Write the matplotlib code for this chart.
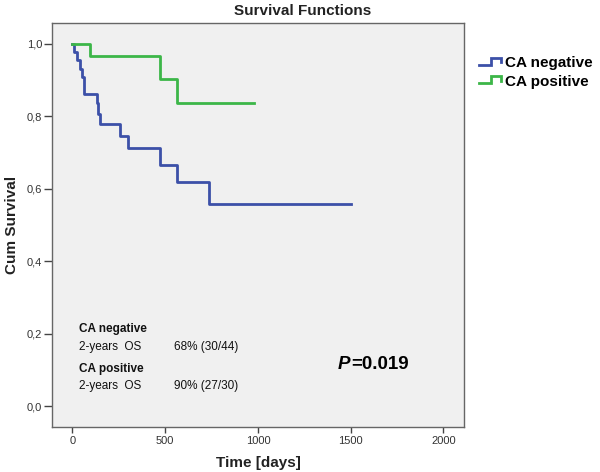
import matplotlib
matplotlib.use("Agg")
import matplotlib.pyplot as plt
from matplotlib.legend_handler import HandlerBase
from matplotlib.lines import Line2D

plt.rcParams['font.family'] = ['Liberation Sans', 'DejaVu Sans']

# Data
neg_times = [0, 7, 22, 40, 49, 61, 130, 140, 151, 256, 302, 472, 562, 738, 1503]
neg_surv = [1.0, 0.977, 0.954, 0.931, 0.908, 0.860, 0.835, 0.807, 0.778,
            0.745, 0.713, 0.666, 0.618, 0.558, 0.558]
pos_times = [0, 94, 472, 562, 980]
pos_surv = [1.0, 0.965, 0.901, 0.837, 0.837]

series_labels = ["CA negative", "CA positive"]
xticks = [0, 500, 1000, 1500, 2000]
yticks = [0.0, 0.2, 0.4, 0.6, 0.8, 1.0]
ytick_labels = ["0,0", "0,2", "0,4", "0,6", "0,8", "1,0"]

BLUE = "#3c50a8"
GREEN = "#3cb648"


class StepHandler(HandlerBase):
    def create_artists(self, legend, orig_handle, xdescent, ydescent,
                       width, height, fontsize, trans):
        x0 = -xdescent
        y0 = -ydescent
        lo = y0 + height * 0.2
        hi = y0 + height * 0.85
        mid = y0 + height * 0.45
        xs = [x0, x0 + width * 0.55, x0 + width * 0.55, x0 + width, x0 + width]
        ys = [lo, lo, hi, hi, mid]
        ln = Line2D(xs, ys, color=orig_handle.get_color(),
                    linewidth=orig_handle.get_linewidth(), transform=trans,
                    solid_joinstyle='miter')
        return [ln]


fig = plt.figure(figsize=(6.0, 4.72), dpi=100)
ax = fig.add_axes([0.0862, 0.0947, 0.6877, 0.856])
ax.set_facecolor("#f0f0f0")

l1, = ax.step(neg_times, neg_surv, where='post', color=BLUE, linewidth=2.0,
              label=series_labels[0])
l2, = ax.step(pos_times, pos_surv, where='post', color=GREEN, linewidth=2.0,
              label=series_labels[1])

ax.set_xlim(-112, 2113)
ax.set_ylim(-0.058, 1.056)
ax.set_xticks(xticks)
ax.set_xticklabels([str(t) for t in xticks])
ax.set_yticks(yticks)
ax.set_yticklabels(ytick_labels)

for s in ax.spines.values():
    s.set_color("#666666")
    s.set_linewidth(1.0)

ax.tick_params(axis='x', direction='out', length=4, width=1, color="#444444",
               labelsize=8, labelcolor="#333333", pad=2)
ax.tick_params(axis='y', direction='out', length=6, width=1, color="#444444",
               labelsize=8, labelcolor="#333333", pad=1)

fig.text(0.505, 1 - 11 / 472, "Survival Functions", ha='center', va='center',
         fontsize=11, fontweight='bold', color="#222222")
fig.text(12 / 600, 0.5 - (225 - 236) / 472, "Cum Survival", rotation=90,
         ha='center', va='center', fontsize=11, fontweight='bold', color="#222222")
fig.text(258 / 600, 1 - 463 / 472, "Time [days]", ha='center', va='center',
         fontsize=11, fontweight='bold', color="#222222")


def px(x, y):
    return (x / 600, 1 - y / 472)


fig.text(*px(79, 329), "CA negative", ha='left', va='center', fontsize=8.5,
         fontweight='bold', color="#111111")
fig.text(*px(79, 347), "2-years  OS", ha='left', va='center', fontsize=8.5,
         color="#111111")
fig.text(*px(174, 347), "68% (30/44)", ha='left', va='center', fontsize=8.5,
         color="#111111")
fig.text(*px(79, 369), "CA positive", ha='left', va='center', fontsize=8.5,
         fontweight='bold', color="#111111")
fig.text(*px(79, 386), "2-years  OS", ha='left', va='center', fontsize=8.5,
         color="#111111")
fig.text(*px(174, 386), "90% (27/30)", ha='left', va='center', fontsize=8.5,
         color="#111111")

ptxt = fig.text(*px(338, 363), "P", ha='left', va='baseline', fontsize=13.5,
                fontweight='bold', fontstyle='italic', color="#000000")
ptxt.set_position(px(338, 369))
renderer = fig.canvas.get_renderer()
bb = ptxt.get_window_extent(renderer=renderer)
fig.text(bb.x1 / fig.bbox.width + 0.5 / 600, 1 - 369 / 472, "=0.019", ha='left',
         va='baseline', fontsize=13.5, fontweight='bold', color="#000000")

fig.legend(handles=[l1, l2], labels=series_labels, loc='upper left',
           bbox_to_anchor=(479 / 600, 1 - 56 / 472), frameon=False,
           handler_map={Line2D: StepHandler()}, prop={'size': 11, 'weight': 'bold'},
           handlelength=1.45, handletextpad=0.25, labelspacing=0.3,
           borderpad=0, borderaxespad=0)

fig.savefig("out.png", dpi=100)
